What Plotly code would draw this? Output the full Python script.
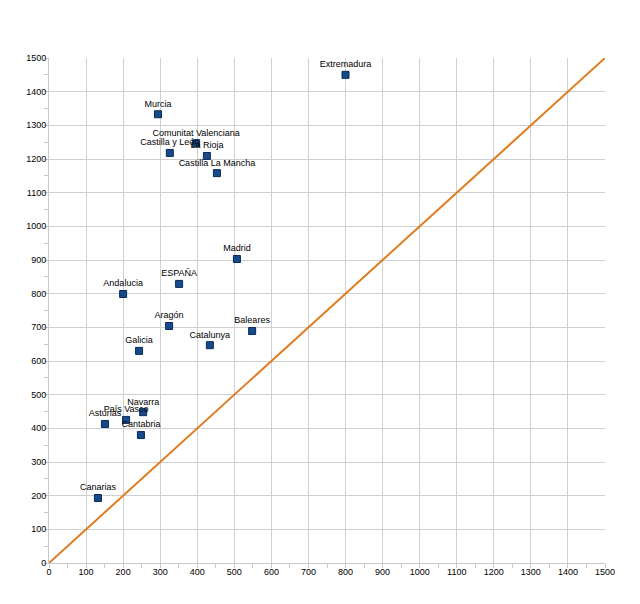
import plotly.graph_objects as go

regions = ["Extremadura", "Murcia", "Comunitat Valenciana", "Castilla y León", "La Rioja",
           "Castilla La Mancha", "Madrid", "ESPAÑA", "Andalucia", "Aragón", "Baleares",
           "Catalunya", "Galicia", "Navarra", "País Vasco", "Asturias", "Cantabria", "Canarias"]
x_vals = [800, 294, 397, 326, 426, 453, 507, 351, 200, 324, 548, 434, 243, 254, 208, 151, 248, 132]
y_vals = [1450, 1333, 1247, 1218, 1209, 1158, 903, 829, 799, 704, 689, 647, 630, 448, 425, 413, 380, 193]
diag = [0, 1500]
ticks = list(range(0, 1501, 100))

fig = go.Figure()
fig.add_trace(go.Scatter(x=diag, y=diag, mode="lines",
                         line=dict(color="#e07b20", width=2), hoverinfo="skip"))
fig.add_trace(go.Scatter(x=x_vals, y=y_vals, mode="markers+text", text=regions,
                         textposition="top center",
                         textfont=dict(family="Liberation Sans, Arial", size=9, color="#000"),
                         marker=dict(symbol="square", size=7, color="#174a8b",
                                     line=dict(color="#0a2a55", width=1))))

axis_common = dict(range=[0, 1500], tickvals=ticks, showgrid=True, gridcolor="#d0d0d0",
                   gridwidth=1, zeroline=False, showline=True, linecolor="#c8c8c8",
                   ticks="", automargin=False,
                   tickfont=dict(family="Liberation Sans, Arial", size=9, color="#000"),
                   minor=dict(dtick=50, ticks="outside", ticklen=4, tickcolor="#c8c8c8",
                              showgrid=False),
                   fixedrange=True)
fig.update_xaxes(**axis_common)
fig.update_yaxes(**axis_common)
fig.update_layout(width=640, height=604, showlegend=False,
                  paper_bgcolor="white", plot_bgcolor="white",
                  margin=dict(l=41, r=43, t=50, b=49))
fig.write_html("out.html")
